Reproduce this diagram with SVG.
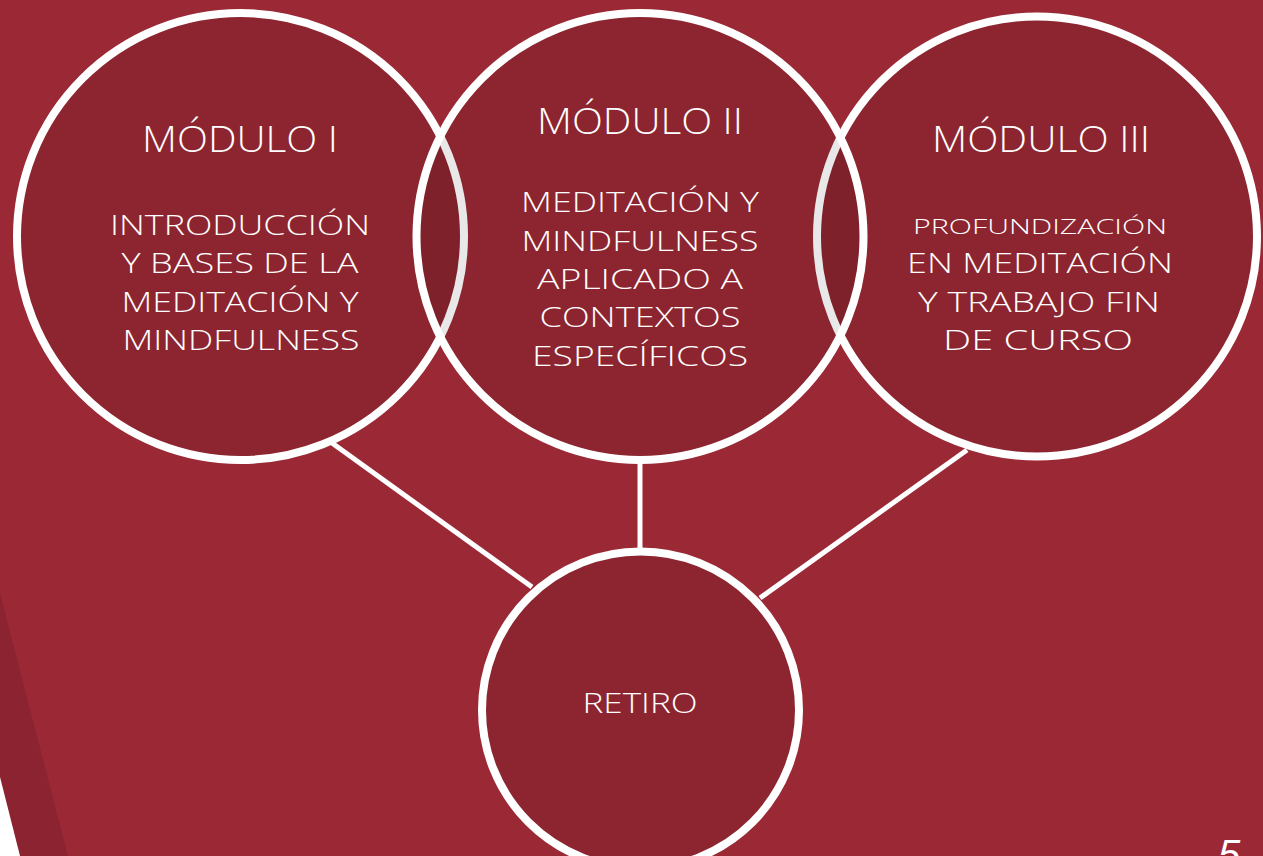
<svg xmlns="http://www.w3.org/2000/svg" width="1263" height="856" viewBox="0 0 1263 856">
<style>
.node{fill:#000;fill-opacity:0.09;stroke:#fff;stroke-width:8}
.conn{stroke:#fff;stroke-width:5;fill:none}
.t{fill:#fff;font-family:"Open Sans","Liberation Sans",Arial,sans-serif;font-weight:300;text-anchor:middle}
.ti{font-size:37px}
.b{font-size:28px}
.s{font-size:21px}
</style>
<rect x="0" y="0" width="1263" height="856" fill="#9a2935"/>
<polygon points="0,593 68,856 20,856 0,777" fill="#8b2430"/>
<polygon points="0,777 20,856 0,856" fill="#fff"/>
<g id="connectors">
<line class="conn" x1="332" y1="443" x2="532" y2="587"/>
<line class="conn" x1="640" y1="462" x2="640" y2="550"/>
<line class="conn" x1="967" y1="450" x2="760" y2="598"/>
</g>
<g id="modulo1">
<circle class="node" cx="240.5" cy="236.5" r="223.5"/>
<text class="t ti" x="240" y="152" textLength="196" lengthAdjust="spacingAndGlyphs">MÓDULO I</text>
<text class="t b" x="240" y="235" textLength="260" lengthAdjust="spacingAndGlyphs">INTRODUCCIÓN</text>
<text class="t b" x="240" y="273" textLength="237" lengthAdjust="spacingAndGlyphs">Y BASES DE LA</text>
<text class="t b" x="240" y="312" textLength="237" lengthAdjust="spacingAndGlyphs">MEDITACIÓN Y</text>
<text class="t b" x="241" y="350" textLength="237" lengthAdjust="spacingAndGlyphs">MINDFULNESS</text>
</g>
<g id="modulo3">
<circle class="node" cx="1037" cy="236.5" r="220"/>
<text class="t ti" x="1041" y="152" textLength="218" lengthAdjust="spacingAndGlyphs">MÓDULO III</text>
<text class="t s" x="1040" y="234" textLength="254" lengthAdjust="spacingAndGlyphs">PROFUNDIZACIÓN</text>
<text class="t b" x="1040" y="273" textLength="266" lengthAdjust="spacingAndGlyphs">EN MEDITACIÓN</text>
<text class="t b" x="1039" y="312" textLength="242" lengthAdjust="spacingAndGlyphs">Y TRABAJO FIN</text>
<text class="t b" x="1038" y="350" textLength="190" lengthAdjust="spacingAndGlyphs">DE CURSO</text>
</g>
<g id="modulo2">
<circle class="node" cx="640" cy="236.5" r="223.5"/>
<text class="t ti" x="640" y="134" textLength="206" lengthAdjust="spacingAndGlyphs">MÓDULO II</text>
<text class="t b" x="640" y="212" textLength="238" lengthAdjust="spacingAndGlyphs">MEDITACIÓN Y</text>
<text class="t b" x="640" y="251" textLength="237" lengthAdjust="spacingAndGlyphs">MINDFULNESS</text>
<text class="t b" x="640" y="289" textLength="206" lengthAdjust="spacingAndGlyphs">APLICADO A</text>
<text class="t b" x="640" y="327" textLength="201" lengthAdjust="spacingAndGlyphs">CONTEXTOS</text>
<text class="t b" x="640" y="366" textLength="216" lengthAdjust="spacingAndGlyphs">ESPECÍFICOS</text>
</g>
<g id="retiro">
<circle class="node" cx="640.5" cy="710" r="158.5"/>
<text class="t b" x="640" y="713" textLength="115" lengthAdjust="spacingAndGlyphs">RETIRO</text>
</g>
<text x="1218" y="868" fill="#fff" font-family="'Liberation Sans',Arial,sans-serif" font-size="40" font-style="italic">5</text>
</svg>
